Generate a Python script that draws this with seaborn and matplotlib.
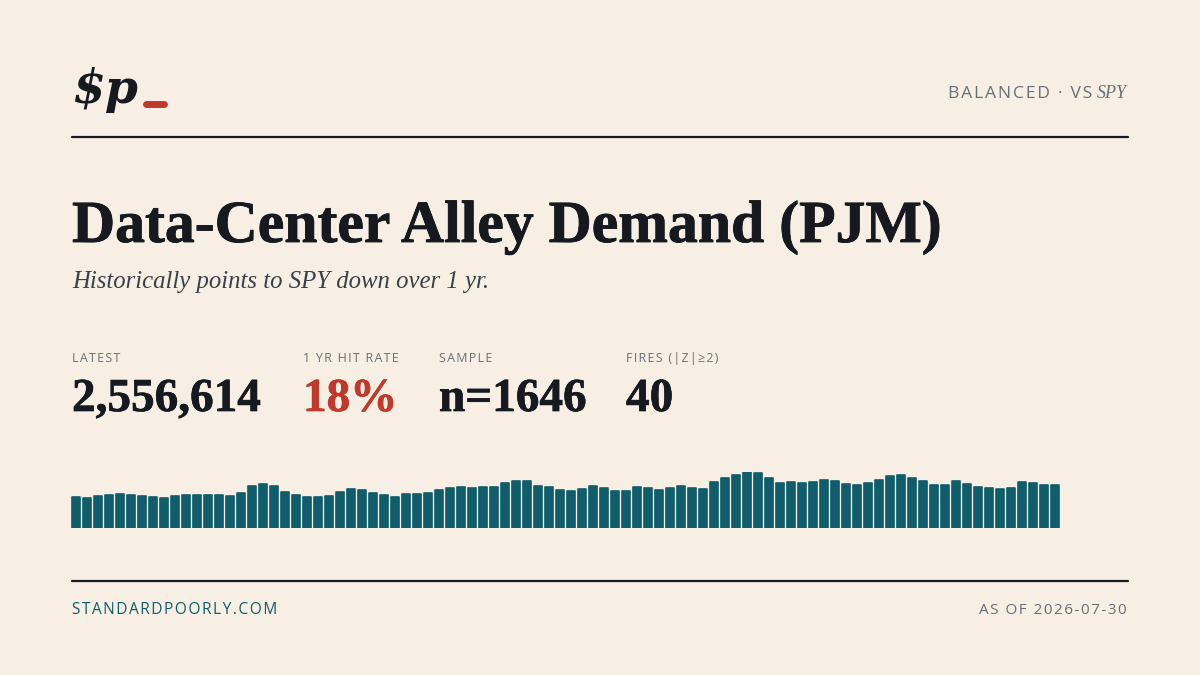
import matplotlib
matplotlib.use("Agg")
import matplotlib.pyplot as plt
import matplotlib.patheffects as pe
from matplotlib.lines import Line2D
import seaborn as sns
import pandas as pd

# card data
title = "Data-Center Alley Demand (PJM)"
subtitle = "Historically points to SPY down over 1 yr."
stat_labels = ["LATEST", "1 YR HIT RATE", "SAMPLE", "FIRES (|Z|≥2)"]
stat_values = ["2,556,614", "18%", "n=1646", "40"]
footer_left = "STANDARDPOORLY.COM"
footer_right = "AS OF 2026-07-30"

# sparkline history (relative level)
history = [31, 30, 32, 33, 34, 33, 32, 31, 30, 32, 33, 33, 33, 33, 32, 35, 42, 44, 42, 36,
           33, 31, 31, 32, 36, 39, 38, 35, 33, 31, 34, 34, 35, 38, 40, 41, 40, 41, 41, 45,
           47, 47, 42, 41, 38, 37, 39, 42, 40, 37, 37, 41, 40, 38, 40, 42, 40, 39, 46, 50,
           53, 56, 55, 50, 45, 46, 45, 46, 48, 47, 44, 43, 45, 48, 52, 53, 50, 47, 43, 43,
           47, 44, 41, 40, 39, 40, 46, 45, 43, 43]

BG = "#F7EFE3"
INK = "#16191F"
GREY = "#6B6F78"
TEAL = "#0F5C6B"
RED = "#C0392B"
W, H = 1200, 675

sns.set_theme(style="white")
plt.rcParams["font.family"] = ["DejaVu Serif"]
SANS = ["Open Sans", "DejaVu Sans"]
SERIF = ["Liberation Serif", "DejaVu Serif"]


def fx(x):
    return x / W


def fy(y):
    return 1 - y / H


def spaced(s):
    return "\u200a".join(s)


def heavy(color, w=1.0):
    return [pe.withStroke(linewidth=w, foreground=color)]


fig = plt.figure(figsize=(12, 6.75), dpi=100)
fig.patch.set_facecolor(BG)
renderer = fig.canvas.get_renderer()

# header
fig.text(fx(72), fy(103), "$p", family=["DejaVu Serif"], fontsize=34, fontweight="bold",
         fontstyle="italic", color=INK, va="baseline")
fig.add_artist(Line2D([fx(146), fx(164)], [fy(104), fy(104)], color=RED, lw=5,
                      solid_capstyle="round"))
spy = fig.text(fx(1127), fy(98), "SPY", family=SERIF, fontsize=13, fontstyle="italic",
               color=GREY, ha="right", va="baseline")
spy_w = spy.get_window_extent(renderer).width
fig.text(fx(1127 - spy_w - 5), fy(98), spaced("BALANCED · VS"), family=SANS, fontsize=12.6,
         color=GREY, ha="right", va="baseline")

for yy in (137, 581):
    fig.add_artist(Line2D([fx(72), fx(1128)], [fy(yy), fy(yy)], color=INK, lw=1.6))

# title block
fig.text(fx(72), fy(242), title, family=SERIF, fontsize=43, fontweight="bold",
         color=INK, va="baseline", path_effects=heavy(INK, 0.6))
fig.text(fx(72), fy(288), subtitle, family=SERIF, fontsize=17.8, fontstyle="italic",
         color="#3B3F48", va="baseline")

# stats
stat_x = [72, 303, 439, 626]
for i, (lab, val) in enumerate(zip(stat_labels, stat_values)):
    fig.text(fx(stat_x[i]), fy(362), spaced(lab), family=SANS, fontsize=9,
             color=GREY, va="baseline")
    c = RED if i == 1 else INK
    fig.text(fx(stat_x[i]), fy(411), val, family=SERIF, fontsize=34, fontweight="bold",
             color=c, va="baseline", path_effects=heavy(c, 0.5))

# sparkline bars
df = pd.DataFrame({"idx": range(len(history)), "level": history})
ax = fig.add_axes([70.5 / W, (H - 528) / H, 990 / W, 56 / H])
sns.barplot(data=df, x="idx", y="level", color=TEAL, saturation=1, width=0.66,
            edgecolor=TEAL, linewidth=1.2, ax=ax)
for p in ax.patches:
    p.set_joinstyle("round")
ax.set_xlim(-0.5, len(history) - 0.5)
ax.set_ylim(0, 56)
ax.set_axis_off()
ax.set_facecolor("none")

# footer
fig.text(fx(72), fy(614), spaced(footer_left), family=SANS, fontsize=11.2,
         color=TEAL, va="baseline")
fig.text(fx(1127), fy(614), spaced(footer_right), family=SANS, fontsize=11,
         color=GREY, ha="right", va="baseline")

fig.savefig("out.png", dpi=100, facecolor=BG)
